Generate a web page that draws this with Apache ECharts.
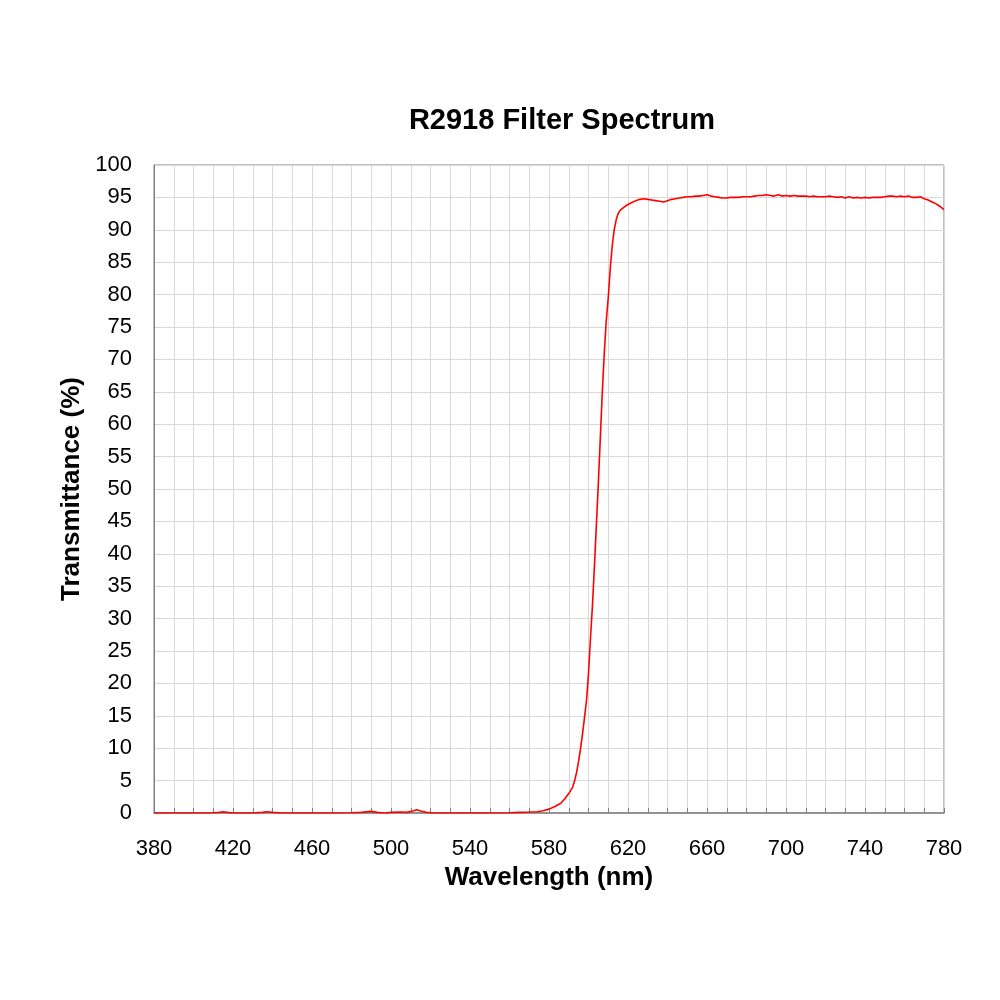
<!DOCTYPE html>
<html>
<head>
<meta charset="utf-8">
<script src="https://cdn.jsdelivr.net/npm/echarts@6/dist/echarts.min.js"></script>
<style>html,body{margin:0;padding:0;background:#fff}#c{width:1000px;height:1000px}</style>
</head>
<body>
<div id="c"></div>
<script>
const wavelengths = [380,385,390,395,400,405,410,413,415,417,420,425,430,435,437,440,445,450,460,470,480,485,490,493,497,500,505,508,511,513,515,518,522,530,540,550,560,565,570,574,577,580,583,586,588,590,592,593,594,595,596,597,598,599,600,601,602,603,604,605,606,607,608,609,610,611,612,613,614,615,616,618,620,622,624,626,628,630,632,634,636,638,640,642,644,646,648,650,652,654,656,658,660,662,664,666,668,670,672,674,676,678,680,682,684,686,688,690,692,694,696,698,700,702,704,706,708,710,712,714,716,718,720,722,724,726,728,730,732,734,736,738,740,742,744,746,748,750,752,754,756,758,760,762,764,766,768,770,772,774,776,778,780];
const transmittance = [0,0,0,0,0,0,0.05,0.1,0.2,0.1,0,0,0,0.1,0.2,0.1,0,0,0,0,0.05,0.1,0.25,0.1,0,0.1,0.15,0.1,0.3,0.5,0.3,0.1,0,0,0,0,0.05,0.1,0.15,0.2,0.35,0.6,1.0,1.5,2.2,3.0,4.0,5.0,6.3,8.0,10.0,12.3,14.8,17.4,21.5,27,32,38,44.5,51,58,65,71,76,79.5,84,87.5,90,91.5,92.5,93,93.5,93.9,94.2,94.5,94.7,94.8,94.7,94.6,94.5,94.4,94.3,94.5,94.7,94.8,94.9,95.0,95.1,95.1,95.2,95.2,95.3,95.4,95.2,95.1,95.0,94.9,94.9,95.0,95.0,95.0,95.1,95.1,95.1,95.2,95.3,95.3,95.4,95.3,95.2,95.4,95.2,95.3,95.2,95.3,95.2,95.2,95.2,95.1,95.2,95.1,95.1,95.1,95.2,95.1,95.0,95.1,94.9,95.1,94.9,95.0,94.9,95.0,94.9,95.0,95.0,95.0,95.1,95.2,95.2,95.1,95.2,95.1,95.2,95.0,95.0,95.1,94.8,94.6,94.3,94.0,93.6,93.1];
const xLabelStep = 40;
const titleText = 'R2918 Filter Spectrum';
const xName = 'Wavelength (nm)';
const yName = 'Transmittance (%)';

const chart = echarts.init(document.getElementById('c'), null, {renderer: 'canvas'});
const font = '"Liberation Sans", Arial, sans-serif';
chart.setOption({
  backgroundColor: '#fff',
  animation: false,
  title: {
    text: titleText, left: 557, top: 101, textAlign: 'center',
    textStyle: {fontFamily: font, fontSize: 29, fontWeight: 'bold', color: '#000'}
  },
  grid: {left: 154, right: 56, top: 165, bottom: 187, show: true, borderColor: '#808080', borderWidth: 1},
  xAxis: {
    type: 'value', min: 380, max: 780, interval: 10,
    name: xName, nameLocation: 'middle', nameGap: 52,
    nameTextStyle: {fontFamily: font, fontSize: 26, fontWeight: 'bold', color: '#000'},
    axisLine: {show: true, lineStyle: {color: '#808080', width: 1.5}},
    axisTick: {show: true, inside: true, length: 5, lineStyle: {color: '#808080'}},
    axisLabel: {
      fontFamily: font, fontSize: 22, color: '#000', margin: 25,
      formatter: v => ((v - 380) % xLabelStep === 0 ? String(v) : '')
    },
    splitLine: {show: true, lineStyle: {color: '#d9d9d9', width: 1}}
  },
  yAxis: {
    type: 'value', min: 0, max: 100, interval: 5,
    name: yName, nameLocation: 'middle', nameGap: 68, nameRotate: 90,
    nameTextStyle: {fontFamily: font, fontSize: 26, fontWeight: 'bold', color: '#000'},
    axisLine: {show: true, lineStyle: {color: '#808080', width: 1}},
    axisTick: {show: false},
    axisLabel: {fontFamily: font, fontSize: 22, color: '#000', margin: 22},
    splitLine: {show: true, lineStyle: {color: '#d9d9d9', width: 1}}
  },
  series: [{
    type: 'line',
    data: wavelengths.map((w, i) => [w, transmittance[i]]),
    showSymbol: false, symbol: 'none', smooth: false,
    lineStyle: {color: '#ff0000', width: 1.6},
    clip: true
  }]
});
</script>
</body>
</html>
